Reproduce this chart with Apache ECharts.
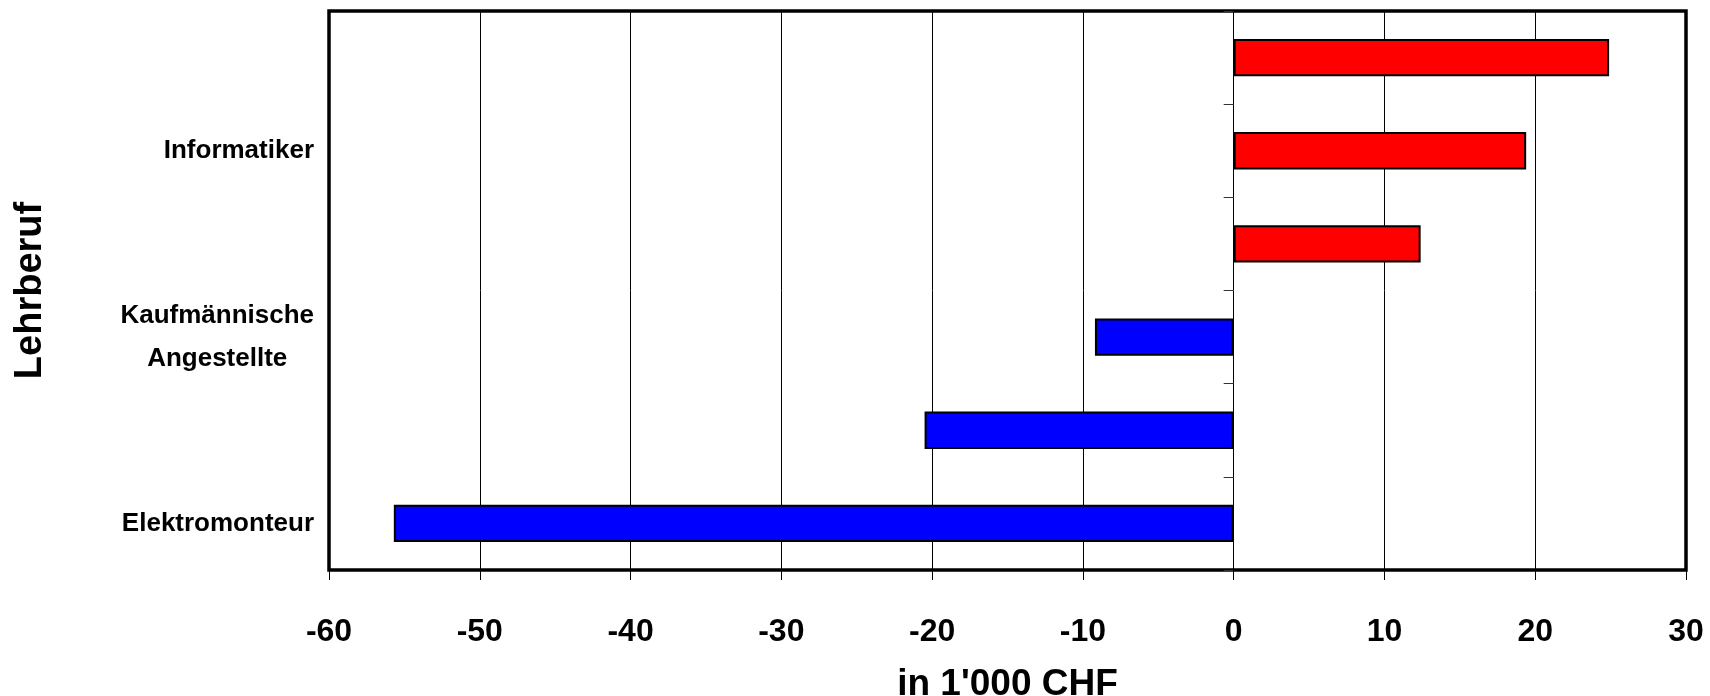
<!DOCTYPE html>
<html>
<head>
<meta charset="utf-8">
<script src="https://cdn.jsdelivr.net/npm/echarts@6/dist/echarts.min.js"></script>
<style>
  html, body { margin: 0; padding: 0; background: #ffffff; }
  #chart { width: 1710px; height: 696px; }
</style>
</head>
<body>
<div id="chart"></div>
<script>
// Apprenticeship trades, listed top to bottom (only every other row carries a label)
const categories = ['', 'Informatiker', ' ', 'Kaufmännische\nAngestellte', '  ', 'Elektromonteur'];
// Difference in 1'000 CHF, one bar per row
const values = [24.9, 19.4, 12.4, -9.2, -20.5, -55.7];
// Value axis ticks
const xTicks = { min: -60, max: 30, step: 10 };

const xTitle = "in 1'000 CHF";
const yTitle = 'Lehrberuf';

const boldSans = "'Liberation Sans', Arial, sans-serif";
const narrowSans = "'Liberation Sans Narrow', 'Arial Narrow', 'Liberation Sans', sans-serif";

const chart = echarts.init(document.getElementById('chart'), null, { renderer: 'canvas' });

chart.setOption({
  animation: false,
  backgroundColor: '#ffffff',
  grid: {
    left: 329, right: 24, top: 11, bottom: 126,
    show: true,
    borderColor: '#000000',
    borderWidth: 3.5,
    backgroundColor: 'transparent',
    containLabel: false,
    outerBoundsMode: 'none'
  },
  xAxis: {
    type: 'value',
    min: xTicks.min,
    max: xTicks.max,
    interval: xTicks.step,
    axisLine: { show: false, onZero: false },
    axisTick: { show: true, length: 10, lineStyle: { color: '#000000', width: 1 } },
    splitLine: { show: true, lineStyle: { color: '#000000', width: 1 } },
    axisLabel: {
      margin: 46,
      color: '#000000',
      fontFamily: boldSans,
      fontWeight: 'bold',
      fontSize: 32
    },
    name: xTitle,
    nameLocation: 'middle',
    nameGap: 96,
    nameTextStyle: {
      color: '#000000',
      fontFamily: boldSans,
      fontWeight: 'bold',
      fontSize: 37,
      verticalAlign: 'top'
    }
  },
  yAxis: [
    {
      type: 'category',
      data: categories,
      inverse: true,
      position: 'left',
      axisLine: { show: false, onZero: false },
      axisTick: { show: false },
      splitLine: { show: false },
      axisLabel: {
        interval: 0,
        margin: 15,
        formatter: function (v) {
          return v.trim() === '' ? '' : v.split('\n').map(function (s) { return '{c|' + s + '}'; }).join('\n');
        },
        rich: {
          c: {
            color: '#000000',
            fontFamily: narrowSans,
            fontWeight: 'bold',
            fontSize: 26,
            lineHeight: 43,
            align: 'center'
          }
        }
      },
      name: yTitle,
      nameLocation: 'middle',
      nameGap: 279,
      nameRotate: 90,
      nameTextStyle: {
        color: '#000000',
        fontFamily: boldSans,
        fontWeight: 'bold',
        fontSize: 38
      }
    },
    {
      // Category boundary ticks drawn along the zero line
      type: 'category',
      data: categories,
      inverse: true,
      position: 'left',
      axisLine: { show: false, onZero: true },
      axisTick: { show: true, length: 10, lineStyle: { color: '#333333', width: 1 } },
      axisLabel: { show: false },
      splitLine: { show: false }
    }
  ],
  series: [
    {
      type: 'bar',
      yAxisIndex: 0,
      data: values,
      barCategoryGap: '60%',
      itemStyle: {
        color: function (p) { return p.value >= 0 ? '#ff0000' : '#0000ff'; },
        borderColor: '#000000',
        borderWidth: 2
      }
    }
  ]
});
</script>
</body>
</html>
